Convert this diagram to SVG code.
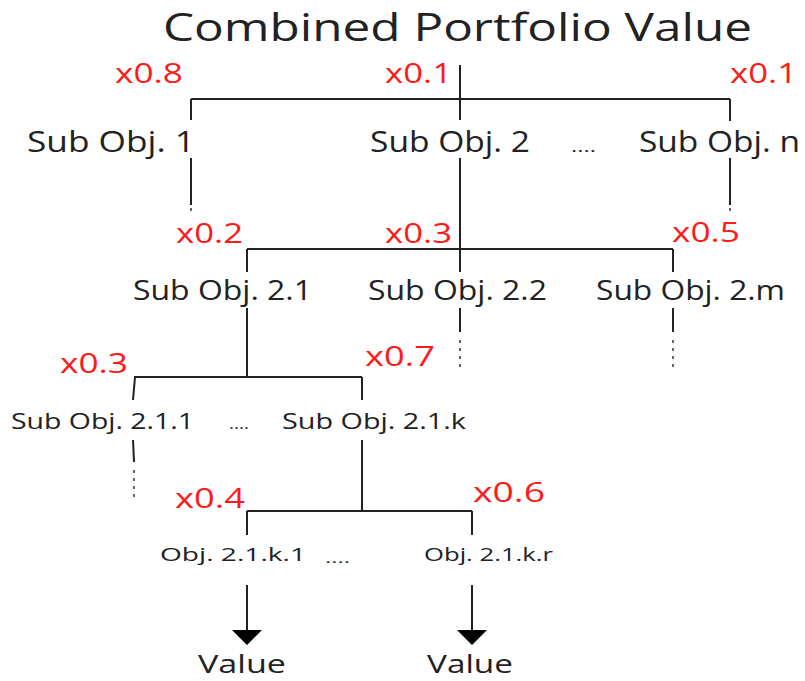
<svg xmlns="http://www.w3.org/2000/svg" width="805" height="681" viewBox="0 0 805 681">
<style>
text{font-family:"Open Sans","Liberation Sans",sans-serif;fill:#222}
.w{fill:#ff1a1a}
.l{stroke:#222;stroke-width:2;fill:none}
.d{stroke:#666;stroke-width:2;fill:none;stroke-dasharray:3 5}
</style>
<rect width="805" height="681" fill="#fff"/>
<g id="title"><text x="163" y="41" font-size="38" textLength="589" lengthAdjust="spacingAndGlyphs">Combined Portfolio Value</text></g>
<g id="connectors">
<path class="l" d="M460,65 V120 M191,99 H730 M191,99 V120 M730,99 V121"/>
<path class="l" d="M191,158 V205 M730,158 V205 M460,158 V272 M247,249 H673 M247,249 V272 M673,249 V272"/>
<path class="d" d="M191,208 V214 M730,208 V214"/>
<path class="l" d="M247,308 V377 M460,308 V332 M673,308 V332 M134,377 H362 M135,377 L133,400 M362,377 V400"/>
<path class="d" d="M460,340 V368 M673,340 V368"/>
<path class="l" d="M133,440 L134,462 M362,440 V511 M247,511 H472 M247,511 V535 M472,511 V535"/>
<path class="d" d="M134,470 V500"/>
<path class="l" d="M247,585 V631 M472,585 V631"/>
<path d="M232,630 H262 L247,645 Z M457,630 H487 L472,645 Z" fill="#000"/>
</g>
<g id="w1"><text class="w" x="115" y="83" font-size="27" textLength="68" lengthAdjust="spacingAndGlyphs">x0.8</text></g>
<g id="w2"><text class="w" x="385" y="83" font-size="27" textLength="67" lengthAdjust="spacingAndGlyphs">x0.1</text></g>
<g id="w3"><text class="w" x="730" y="83" font-size="27" textLength="67" lengthAdjust="spacingAndGlyphs">x0.1</text></g>
<g id="n1"><text x="27" y="152" font-size="29" textLength="168" lengthAdjust="spacingAndGlyphs">Sub Obj. 1</text></g>
<g id="n2"><text x="370" y="152" font-size="29" textLength="160" lengthAdjust="spacingAndGlyphs">Sub Obj. 2</text></g>
<g id="e1"><text x="571" y="152" font-size="16" textLength="25" lengthAdjust="spacingAndGlyphs">....</text></g>
<g id="nn"><text x="639" y="152" font-size="29" textLength="161" lengthAdjust="spacingAndGlyphs">Sub Obj. n</text></g>
<g id="w21"><text class="w" x="176" y="243" font-size="27" textLength="67" lengthAdjust="spacingAndGlyphs">x0.2</text></g>
<g id="w22"><text class="w" x="385" y="243" font-size="27" textLength="67" lengthAdjust="spacingAndGlyphs">x0.3</text></g>
<g id="w2m"><text class="w" x="672" y="242" font-size="27" textLength="68" lengthAdjust="spacingAndGlyphs">x0.5</text></g>
<g id="n21"><text x="133" y="300" font-size="27" textLength="179" lengthAdjust="spacingAndGlyphs">Sub Obj. 2.1</text></g>
<g id="n22"><text x="368" y="300" font-size="27" textLength="179" lengthAdjust="spacingAndGlyphs">Sub Obj. 2.2</text></g>
<g id="n2m"><text x="596" y="300" font-size="27" textLength="189" lengthAdjust="spacingAndGlyphs">Sub Obj. 2.m</text></g>
<g id="w211"><text class="w" x="60" y="373" font-size="27" textLength="68" lengthAdjust="spacingAndGlyphs">x0.3</text></g>
<g id="w21k"><text class="w" x="365" y="366" font-size="27" textLength="70" lengthAdjust="spacingAndGlyphs">x0.7</text></g>
<g id="n211"><text x="11" y="429" font-size="22" textLength="183" lengthAdjust="spacingAndGlyphs">Sub Obj. 2.1.1</text></g>
<g id="e2"><text x="229" y="429" font-size="14" textLength="20" lengthAdjust="spacingAndGlyphs">....</text></g>
<g id="n21k"><text x="282" y="429" font-size="22" textLength="184" lengthAdjust="spacingAndGlyphs">Sub Obj. 2.1.k</text></g>
<g id="w4"><text class="w" x="175" y="508" font-size="27" textLength="70" lengthAdjust="spacingAndGlyphs">x0.4</text></g>
<g id="w6"><text class="w" x="473" y="502" font-size="27" textLength="72" lengthAdjust="spacingAndGlyphs">x0.6</text></g>
<g id="o1"><text x="160" y="561" font-size="18" textLength="146" lengthAdjust="spacingAndGlyphs">Obj. 2.1.k.1</text></g>
<g id="e3"><text x="325" y="563" font-size="13" textLength="25" lengthAdjust="spacingAndGlyphs">....</text></g>
<g id="or"><text x="424" y="561" font-size="18" textLength="129" lengthAdjust="spacingAndGlyphs">Obj. 2.1.k.r</text></g>
<g id="v1"><text x="198" y="673" font-size="26" textLength="88" lengthAdjust="spacingAndGlyphs">Value</text></g>
<g id="v2"><text x="427" y="673" font-size="26" textLength="86" lengthAdjust="spacingAndGlyphs">Value</text></g>
</svg>
